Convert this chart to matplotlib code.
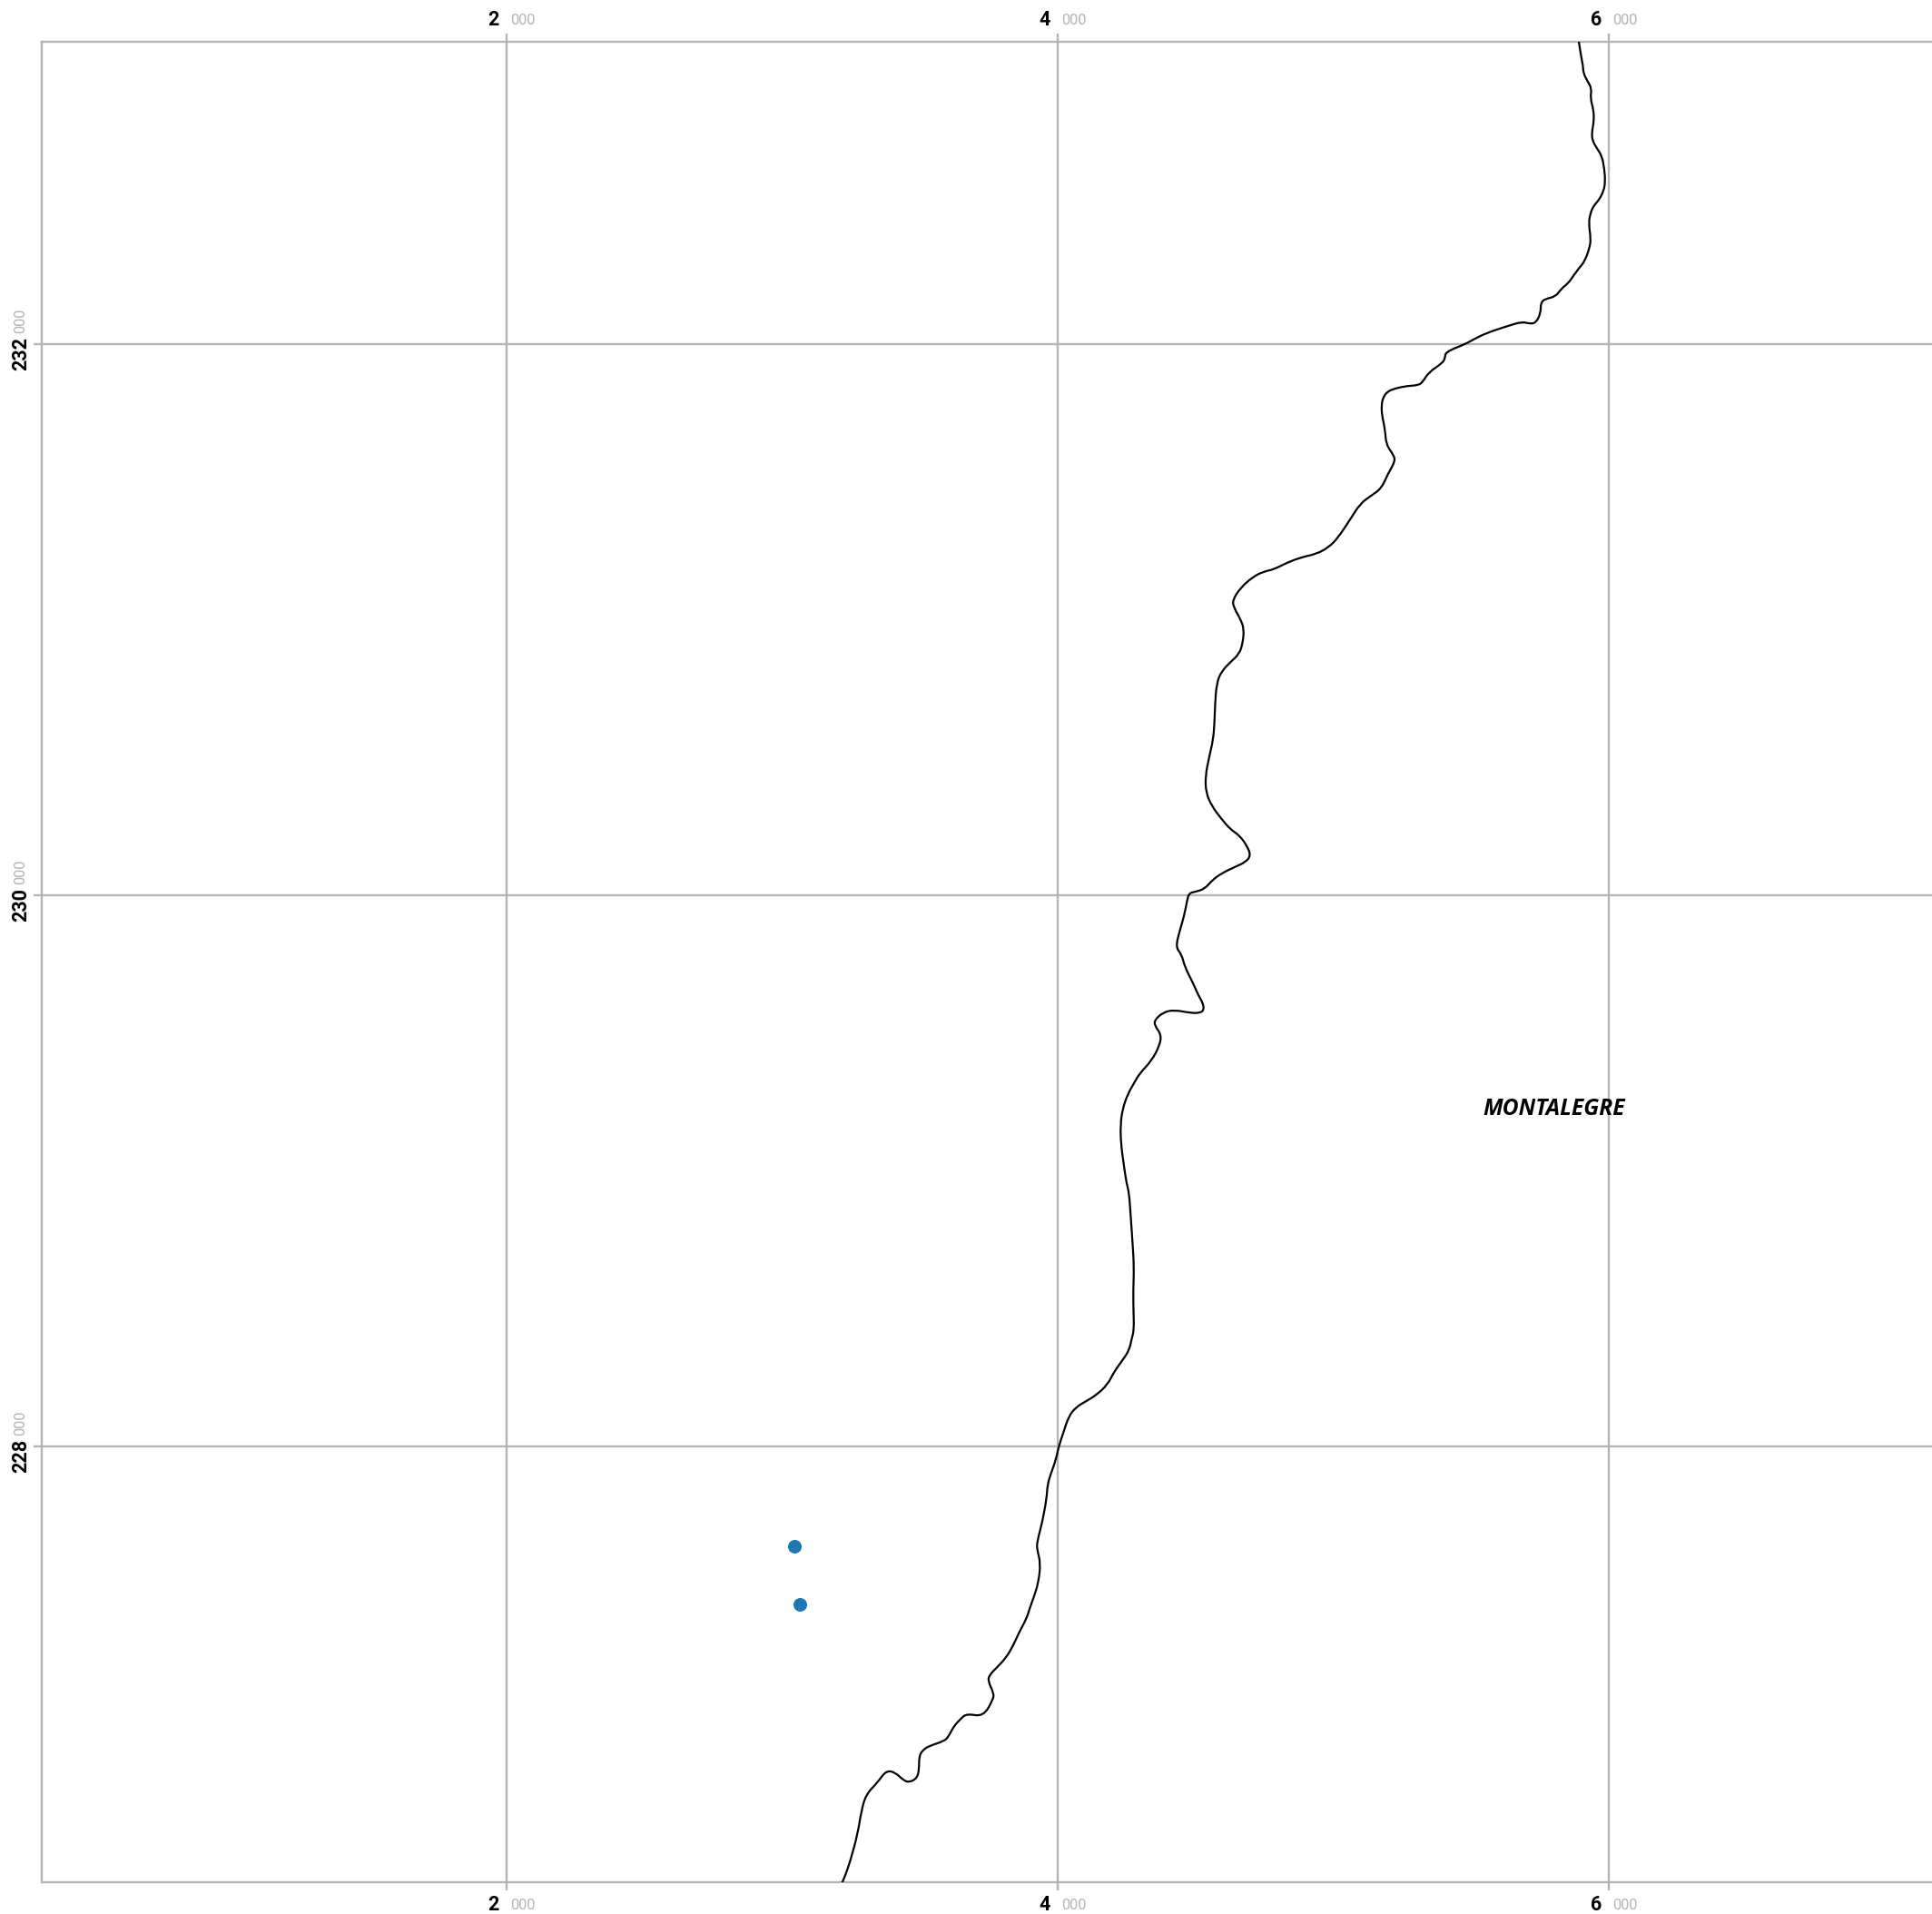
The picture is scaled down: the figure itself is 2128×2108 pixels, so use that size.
from matplotlib import pyplot as plt
from matplotlib.path import Path
from matplotlib.patches import PathPatch
import numpy as np

# border line, traced north to south (map metres)
border_x = [5890, 5900, 5906, 5908, 5923, 5938, 5933, 5945, 5946, 5938, 5941, 5955, 5975, 5984, 5987, 5982,
            5964, 5945, 5933, 5927, 5935, 5930, 5912, 5893, 5869, 5854, 5827, 5807, 5770, 5753, 5753, 5735,
            5711, 5685, 5632, 5559, 5513, 5480, 5407, 5406, 5395, 5346, 5324, 5307, 5269, 5225, 5197, 5181,
            5175, 5177, 5188, 5192, 5219, 5225, 5197, 5175, 5137, 5098, 5060, 5016, 4983, 4939, 4884, 4829,
            4785, 4747, 4709, 4665, 4634, 4640, 4665, 4676, 4672, 4659, 4626, 4595, 4577, 4571, 4569, 4564,
            4549, 4536, 4538, 4560, 4593, 4626, 4659, 4687, 4701, 4681, 4643, 4593, 4560, 4533, 4500, 4476,
            4469, 4458, 4443, 4428, 4450, 4461, 4489, 4511, 4527, 4531, 4516, 4483, 4423, 4384, 4352, 4352,
            4376, 4370, 4341, 4297, 4279, 4254, 4235, 4228, 4229, 4240, 4250, 4259, 4265, 4272, 4277, 4274,
            4275, 4277, 4268, 4260, 4235, 4206, 4181, 4140, 4103, 4066, 4040, 4022, 4004, 3993, 3977, 3963,
            3960, 3944, 3925, 3925, 3938, 3930, 3913, 3898, 3887, 3862, 3837, 3812, 3779, 3752, 3747, 3768,
            3766, 3730, 3669, 3647, 3622, 3603, 3587, 3532, 3510, 3497, 3497, 3490, 3461, 3439, 3411, 3378,
            3346, 3304, 3287, 3274, 3247, 3230, 3219, 3212]
border_y = [233105, 233040, 233013, 232982, 232954, 232927, 232892, 232848, 232809, 232765, 232738, 232713,
            232683, 232634, 232590, 232557, 232522, 232502, 232474, 232438, 232381, 232348, 232299, 232277,
            232244, 232222, 232200, 232172, 232164, 232150, 232112, 232076, 232074, 232081, 232065, 232041,
            232019, 232000, 231971, 231948, 231930, 231897, 231861, 231850, 231848, 231839, 231828, 231806,
            231778, 231740, 231690, 231635, 231597, 231575, 231526, 231476, 231449, 231421, 231361, 231295,
            231262, 231238, 231226, 231205, 231182, 231174, 231155, 231117, 231070, 231042, 230998, 230965,
            230916, 230875, 230845, 230812, 230771, 230691, 230624, 230563, 230498, 230432, 230371, 230322,
            230278, 230239, 230217, 230179, 230143, 230119, 230102, 230078, 230053, 230022, 230012, 230007,
            229976, 229921, 229871, 229811, 229784, 229740, 229685, 229635, 229608, 229583, 229572, 229572,
            229583, 229575, 229547, 229526, 229493, 229454, 229399, 229352, 229321, 229277, 229222, 229167,
            229102, 229019, 228953, 228920, 228833, 228734, 228646, 228563, 228492, 228421, 228388, 228349,
            228311, 228272, 228223, 228185, 228163, 228141, 228108, 228053, 228000, 227949, 227905, 227861,
            227811, 227723, 227652, 227625, 227575, 227504, 227451, 227410, 227374, 227328, 227273, 227231,
            227196, 227169, 227147, 227103, 227081, 227018, 227029, 227009, 226982, 226944, 226929, 226911,
            226896, 226874, 226828, 226795, 226779, 226788, 226815, 226823, 226779, 226735, 226674, 226592,
            226493, 226444, 226419, 226400]

point_x = [3044, 3063]
point_y = [227637, 227425]

town = 'MONTALEGRE'
town_x = 5801
town_y = 229224

x_ticks = [2000, 4000, 6000]
y_ticks = [228000, 230000, 232000]

grey = '#b5b5b5'
px = 0.72  # points per pixel at dpi 100

plt.rcParams['font.family'] = ['Roboto', 'DejaVu Sans']

fig = plt.figure(figsize=(21.28, 21.08), dpi=100)
ax = fig.add_axes([46.4/2128, 35/2108, 1-46.4/2128, (2073-45.7)/2108])

# rounded corners: each traced point is a control point, midpoints are on the curve
pts = np.column_stack([border_x, border_y])
mids = (pts[1:] + pts[:-1])/2
verts = [pts[0]]
codes = [Path.MOVETO]
for i in range(1, len(pts)-1):
    verts += [pts[i], mids[i]]
    codes += [Path.CURVE3, Path.CURVE3]
verts.append(pts[-1])
codes.append(Path.LINETO)
ax.add_patch(PathPatch(Path(verts, codes), fill=False, edgecolor='black', lw=1.6, zorder=3))

ax.scatter(point_x, point_y, s=117, color='#1f77b4', linewidths=0, zorder=4)
ax.text(town_x, town_y, town, family='Open Sans', weight='bold', style='italic', fontsize=17.7,
        ha='center', va='center', zorder=5)

ax.set_xlim(314.3, 7173)
ax.set_ylim(226417, 233098)
ax.set_xticks(x_ticks)
ax.set_yticks(y_ticks)
ax.grid(True, color=grey, lw=1.7)
ax.set_axisbelow(True)
ax.tick_params(axis='both', length=9*px, width=1.7, color=grey, labelbottom=False, labelleft=False,
               top=True, bottom=True, left=True, right=False)
ax.spines['right'].set_visible(False)
for s in ['top', 'left', 'bottom']:
    ax.spines[s].set_color(grey)
    ax.spines[s].set_linewidth(1.7)

# two-part labels: km in bold black, the trailing zeros small and grey
for t in x_ticks:
    for frac, off in [(1, 23.5), (0, -25.5)]:
        ax.annotate(str(t//1000), (t, frac), xycoords=('data', 'axes fraction'), xytext=(-8*px, off*px),
                    textcoords='offset points', ha='right', va='center', weight='bold', fontsize=15.5,
                    color='black')
        ax.annotate('000', (t, frac), xycoords=('data', 'axes fraction'), xytext=(4*px, off*px),
                    textcoords='offset points', ha='left', va='center', fontsize=11.8, color=grey)

for t in y_ticks:
    ax.annotate(str(t//1000), (0, t), xycoords=('axes fraction', 'data'), xytext=(-23.5*px, 8*px),
                textcoords='offset points', ha='center', va='top', rotation=90, weight='bold',
                fontsize=15.5, color='black')
    ax.annotate('000', (0, t), xycoords=('axes fraction', 'data'), xytext=(-23.5*px, 12*px),
                textcoords='offset points', ha='center', va='bottom', rotation=90, fontsize=11.8, color=grey)

fig.savefig('out.png', dpi=100)
